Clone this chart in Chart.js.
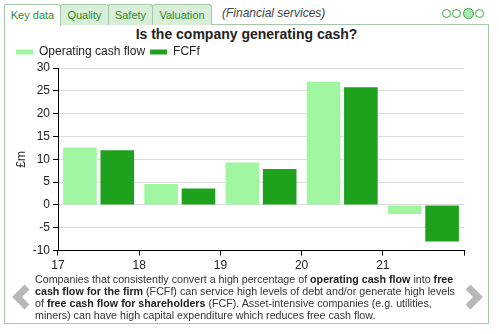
<!DOCTYPE html>
<html>
<head>
<meta charset="utf-8">
<script src="https://cdn.jsdelivr.net/npm/chart.js@4.4.1/dist/chart.umd.min.js"></script>
<style>
  body { margin: 0; background: #fff; font-family: "Liberation Sans", Arial, sans-serif; }
  #wrap { position: relative; width: 499px; height: 334px; overflow: hidden; }
  .tab {
    position: absolute; top: 4px; height: 21px; box-sizing: border-box;
    border: 1px solid #a6c8a6; border-bottom: none; border-radius: 3px 3px 0 0;
    background: #d9eed9; color: #2e8b2e; font-size: 11px; line-height: 20px; text-align: center;
  }
  .tab.active { background: #fff; height: 22px; z-index: 2; }
  #sector { position: absolute; left: 222px; top: 6px; font-size: 12px; font-style: italic; color: #444; }
  .dot {
    position: absolute; top: 9px; width: 9px; height: 9px; box-sizing: border-box;
    border: 1.5px solid #3aa53a; border-radius: 50%;
  }
  .dot.on { top: 8px; width: 11px; height: 11px; background: #a6e8b4; }
  #panel {
    position: absolute; left: 4px; top: 24px; width: 485px; height: 300px; box-sizing: border-box;
    border: 1px solid #a6c8a6;
  }
  #title {
    position: absolute; left: 0; top: 26px; width: 493px; text-align: center;
    font-size: 14px; font-weight: bold; color: #222;
  }
  #chartBox { position: absolute; left: 11px; top: 41px; width: 476px; height: 235px; }
  #note {
    position: absolute; left: 35px; top: 274px; width: 424px;
    font-size: 10.7px; line-height: 11.9px; color: #333;
  }
  #note b { color: #222; }
  .arrow { position: absolute; top: 284px; }
</style>
</head>
<body>
<div id="wrap">
  <div id="panel"></div>
  <div class="tab active" style="left:4px;width:57px">Key data</div>
  <div class="tab" style="left:60px;width:49px">Quality</div>
  <div class="tab" style="left:108px;width:45px">Safety</div>
  <div class="tab" style="left:152px;width:60px">Valuation</div>
  <div id="sector">(Financial services)</div>
  <div class="dot" style="left:442px"></div>
  <div class="dot" style="left:452px"></div>
  <div class="dot on" style="left:463px"></div>
  <div class="dot" style="left:475px"></div>

  <div id="title">Is the company generating cash?</div>
  <div id="chartBox"><canvas id="cashChart"></canvas></div>

  <div id="note">Companies that consistently convert a high percentage of <b>operating cash flow</b> into <b>free cash flow for the firm</b> (FCFf) can service high levels of debt and/or generate high levels of <b>free cash flow for shareholders</b> (FCF). Asset-intensive companies (e.g. utilities, miners) can have high capital expenditure which reduces free cash flow.</div>

  <!-- prev / next chevrons -->
  <svg class="arrow" style="left:9px" width="22" height="26"><polyline points="18,3 8,13 18,23" fill="none" stroke="#b8b8b8" stroke-width="7"/></svg>
  <svg class="arrow" style="left:463px" width="22" height="26"><polyline points="5,3 15,13 5,23" fill="none" stroke="#b8b8b8" stroke-width="7"/></svg>
</div>

<script>
  const years = ['17', '18', '19', '20', '21'];
  const operatingCashFlow = [12.6, 4.6, 9.3, 27.0, -2.0];
  const fcff = [12.0, 3.6, 7.9, 25.8, -8.0];
  const yMin = -10, yMax = 30, yStep = 5;

  Chart.defaults.font.family = '"Liberation Sans", Arial, sans-serif';
  Chart.defaults.font.size = 12;
  Chart.defaults.color = '#222';

  const ctx = document.getElementById('cashChart');

  new Chart(ctx, {
    type: 'bar',
    data: {
      labels: years,
      datasets: [
        {
          label: 'Operating cash flow',
          data: operatingCashFlow,
          backgroundColor: '#a0f6a0',
          borderWidth: 0
        },
        {
          label: 'FCFf',
          data: fcff,
          backgroundColor: '#1ea21e',
          borderWidth: 0
        }
      ]
    },
    options: {
      responsive: true,
      maintainAspectRatio: false,
      animation: false,
      layout: { padding: { right: 23 } },
      datasets: { bar: { categoryPercentage: 0.92, barPercentage: 0.9 } },
      plugins: {
        legend: {
          align: 'start',
          labels: { boxWidth: 17, boxHeight: 5, padding: 5, color: '#222' }
        },
        tooltip: { enabled: false }
      },
      scales: {
        x: {
          offset: true,
          border: { color: '#000' },
          // tick marks on the category edges, year labels under the left edge
          grid: { offset: true, drawOnChartArea: false, tickLength: 5, tickColor: '#000' },
          ticks: { labelOffset: -40.6, padding: 3, maxRotation: 0 }
        },
        y: {
          min: yMin,
          max: yMax,
          border: { color: '#000' },
          grid: { color: '#dddddd', tickColor: '#000', tickLength: 5 },
          ticks: { stepSize: yStep, padding: 3 },
          title: { display: true, text: '£m', padding: { top: 3, bottom: 0 } },
          afterFit: function (scale) { scale.width = 47; }
        }
      }
    }
  });
</script>
</body>
</html>
